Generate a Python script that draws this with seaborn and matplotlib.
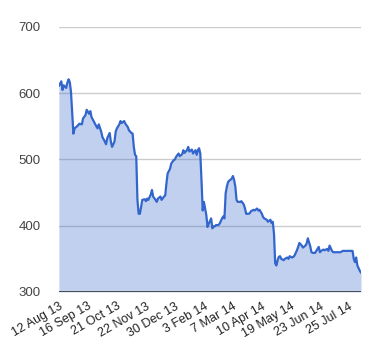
import matplotlib
matplotlib.use("Agg")
import matplotlib.pyplot as plt
import seaborn as sns
import pandas as pd

# trading-day index and closing values
days = [0, 2, 3, 4, 6, 7, 8, 9, 10, 12, 13, 15, 17, 19, 20, 22, 23, 25, 26, 27,
        29, 31, 32, 33, 35, 36, 38, 39, 40, 42, 43, 44, 46, 47, 48, 50, 51, 52, 54, 55,
        57, 58, 60, 61, 62, 63, 64, 65, 66, 67, 68, 69, 71, 72, 73, 74, 76, 77, 78, 80,
        81, 82, 84, 85, 87, 88, 89, 90, 92, 93, 95, 96, 97, 99, 100, 102, 103, 104, 106, 107,
        108, 110, 111, 113, 114, 115, 116, 117, 118, 119, 120, 121, 122, 123, 124, 126, 127, 128, 129, 130,
        132, 133, 135, 136, 137, 138, 139, 140, 141, 143, 144, 145, 146, 147, 148, 150, 151, 153, 154, 155,
        157, 158, 159, 161, 162, 164, 165, 166, 168, 169, 170, 172, 173, 175, 176, 177, 178, 179, 180, 181,
        182, 183, 184, 186, 187, 189, 190, 191, 193, 194, 195, 197, 198, 199, 201, 202, 204, 205, 206, 208,
        209, 210, 212, 213, 215, 216, 217, 219, 220, 222, 223, 224, 226, 227, 230, 233, 235, 238, 241, 243,
        244, 245, 246, 247, 249, 250]
values = [611, 618, 605, 612, 608, 616, 621, 617, 602, 539, 547, 550, 554, 553, 562, 567, 575, 569, 573, 564,
          557, 550, 547, 553, 542, 534, 527, 523, 532, 540, 527, 519, 527, 542, 547, 553, 558, 555, 558, 554,
          549, 544, 540, 539, 519, 507, 505, 439, 418, 418, 428, 439, 440, 437, 441, 439, 447, 454, 444, 439,
          436, 441, 444, 439, 444, 446, 464, 479, 486, 494, 499, 500, 504, 509, 505, 508, 514, 510, 514, 519,
          512, 515, 509, 514, 507, 514, 517, 509, 469, 423, 436, 426, 416, 398, 403, 411, 396, 399, 399, 401,
          401, 403, 411, 414, 411, 449, 459, 466, 468, 471, 475, 469, 459, 439, 436, 436, 437, 432, 426, 418,
          418, 419, 422, 424, 423, 426, 423, 424, 418, 413, 411, 409, 406, 409, 404, 406, 388, 343, 340, 348,
          353, 354, 350, 348, 350, 352, 350, 354, 352, 353, 355, 363, 368, 374, 370, 367, 370, 373, 381, 369,
          360, 359, 359, 362, 368, 360, 362, 364, 363, 365, 362, 370, 362, 360, 360, 360, 362, 362, 362, 362,
          350, 345, 352, 340, 332, 329]

tick_days = [0, 24, 48, 72, 96, 120, 144, 168, 192, 216, 240]
tick_labels = ["12 Aug 13", "16 Sep 13", "21 Oct 13", "22 Nov 13", "30 Dec 13", "3 Feb 14",
               "7 Mar 14", "10 Apr 14", "19 May 14", "23 Jun 14", "25 Jul 14"]
y_ticks = [300, 400, 500, 600, 700]

df = pd.DataFrame({"day": days, "value": values})

sns.set_style("white")
plt.rcParams["font.family"] = ["Liberation Sans", "DejaVu Sans"]

fig = plt.figure(figsize=(3.8, 3.6), dpi=100)
ax = fig.add_axes([0.155, 0.189, 0.795, 0.736])

line_color = "#3366CC"
ax.fill_between(df["day"], df["value"], 300, color=line_color, alpha=0.3, linewidth=0, zorder=2)
sns.lineplot(data=df, x="day", y="value", ax=ax, color=line_color, linewidth=1.6, zorder=3)

ax.set_xlim(0, 250)
ax.set_ylim(300, 700)
ax.set_yticks(y_ticks)
ax.set_yticklabels([str(v) for v in y_ticks])
for v in y_ticks[1:]:
    ax.axhline(v, color="#cccccc", linewidth=1, zorder=1)
ax.axhline(300, color="#333333", linewidth=1.2, zorder=4)

ax.set_xticks(tick_days)
ax.set_xticklabels(tick_labels, rotation=30, ha="right", rotation_mode="anchor")

ax.tick_params(axis="y", length=0, pad=13, labelsize=9.5, labelcolor="#444444")
ax.tick_params(axis="x", length=0, pad=6, labelsize=9, labelcolor="#222222")
ax.set_xlabel("")
ax.set_ylabel("")
for s in ax.spines.values():
    s.set_visible(False)
ax.grid(False)

fig.savefig("out.png", dpi=100)
